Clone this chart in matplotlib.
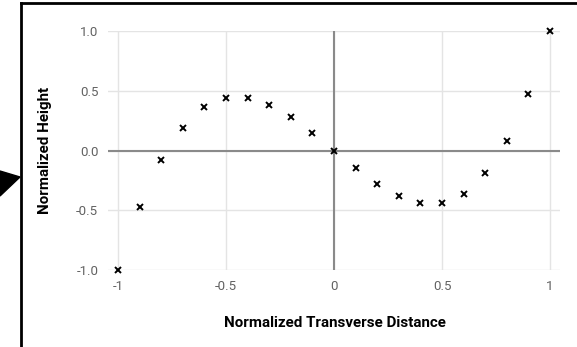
import matplotlib
matplotlib.use("Agg")
import matplotlib.pyplot as plt
from matplotlib.lines import Line2D
from matplotlib.patches import Polygon

plt.rcParams["font.family"] = ["Roboto", "DejaVu Sans"]

# data
distance = [-1.0, -0.9, -0.8, -0.7, -0.6, -0.5, -0.4, -0.3, -0.2, -0.1, 0.0,
            0.1, 0.2, 0.3, 0.4, 0.5, 0.6, 0.7, 0.8, 0.9, 1.0]
height = [-1.0, -0.47, -0.08, 0.19, 0.36, 0.44, 0.44, 0.38, 0.28, 0.15, 0.0,
          -0.15, -0.28, -0.38, -0.44, -0.44, -0.36, -0.19, 0.08, 0.47, 1.0]
x_ticks = [-1, -0.5, 0, 0.5, 1]
x_tick_labels = ["-1", "-0.5", "0", "0.5", "1"]
y_ticks = [-1.0, -0.5, 0.0, 0.5, 1.0]
y_tick_labels = ["-1.0", "-0.5", "0.0", "0.5", "1.0"]

W, H = 577, 347
fig = plt.figure(figsize=(W / 100, H / 100), dpi=100)
ax = fig.add_axes([108 / W, 1 - 270 / H, 452 / W, 239 / H])

ax.set_xlim(-1.046, 1.046)
ax.set_ylim(-1, 1)
for s in ax.spines.values():
    s.set_visible(False)

ax.set_xticks(x_ticks)
ax.set_xticklabels(x_tick_labels)
ax.set_yticks(y_ticks)
ax.set_yticklabels(y_tick_labels)
ax.tick_params(length=0, labelsize=9.5, colors="#626262", pad=7)
ax.grid(True, color="#e4e4e4", linewidth=1)
ax.set_axisbelow(True)
ax.axhline(0, color="#8a8a8a", linewidth=1.5, zorder=1)
ax.axvline(0, color="#8a8a8a", linewidth=1.5, zorder=1)

ax.plot(distance, height, linestyle="none", marker="x", color="black",
        markersize=5, markeredgewidth=1.4, clip_on=False, zorder=3)

ax.set_xlabel("Normalized Transverse Distance", fontsize=10.9,
              fontweight="bold", labelpad=17)
ax.set_ylabel("Normalized Height", fontsize=10.9, fontweight="bold",
              labelpad=17.5)
ax.xaxis.label.set_position((226.5 / 452, 0))

# frame and pointer around the chart
fig.add_artist(Line2D([20.5 / W, 20.5 / W], [0, 1 - 3 / H],
                      transform=fig.transFigure, color="black", linewidth=2))
fig.add_artist(Line2D([20.5 / W, 1], [1 - 3 / H, 1 - 3 / H],
                      transform=fig.transFigure, color="black", linewidth=2))
fig.add_artist(Polygon([[0, 1 - 171 / H], [20 / W, 1 - 177 / H], [0, 1 - 196 / H]],
                       closed=True, transform=fig.transFigure, color="black"))

fig.savefig("out.png", dpi=100)
